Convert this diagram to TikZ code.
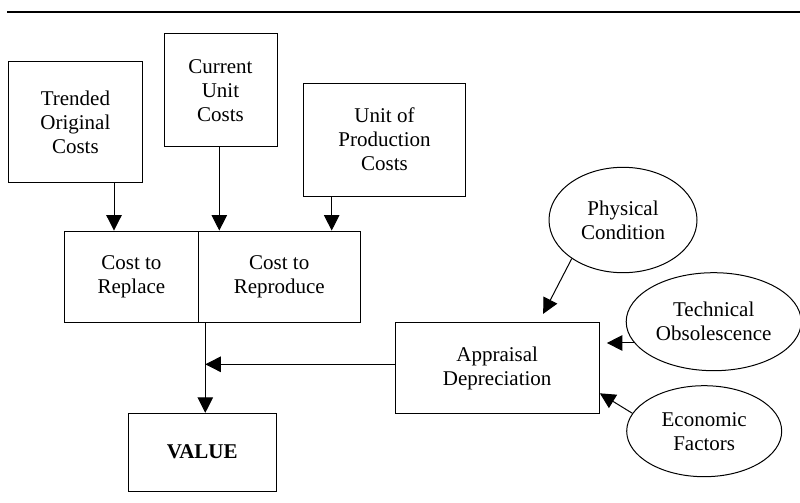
\documentclass[tikz,border=0pt]{standalone}
\usepackage{fontspec}
\setmainfont{Liberation Serif}
\usetikzlibrary{shapes.geometric,arrows.meta}

\begin{document}
\begin{tikzpicture}[x=1pt,y=-1pt,
    txt/.style={align=center,font=\fontsize{21}{24}\selectfont,inner sep=0pt},
    box/.style={txt,draw,line width=1pt,rectangle},
    oval/.style={txt,draw,line width=1pt,ellipse},
    arr/.style={line width=1pt,-{Triangle[length=15.5pt,width=15.5pt]}},
    link/.style={line width=1pt}]
  \useasboundingbox (0,0) rectangle (800,503);

  % rule across the top
  \draw[line width=2.2pt] (7,12) -- (800,12);

  % cost sources
  \node[box,minimum width=134.2pt,minimum height=120pt] (trended) at (75.4,122) {Trended\\Original\\Costs};
  \node[box,minimum width=113pt,minimum height=113pt] (current) at (220.5,90.2) {Current\\Unit\\Costs};
  \node[box,minimum width=162.4pt,minimum height=112.7pt] (unitprod) at (384.5,139.7) {Unit of\\Production\\Costs};

  % split cost box
  \node[box,minimum width=134.2pt,minimum height=91.3pt] (replace) at (131.4,276.7) {Cost to\\Replace};
  \node[box,minimum width=161.5pt,minimum height=91.3pt] (reproduce) at (279.25,276.7) {Cost to\\Reproduce};

  % result and depreciation
  \node[box,minimum width=147.7pt,minimum height=77.7pt,font=\fontsize{21}{24}\selectfont\bfseries] (value) at (202.2,452.2) {VALUE};
  \node[box,minimum width=204.3pt,minimum height=91.4pt] (appraisal) at (497.2,368) {Appraisal\\Depreciation};

  % depreciation factors
  \node[oval,minimum width=148pt,minimum height=105.4pt] (physical) at (623,220) {Physical\\Condition};
  \node[oval,minimum width=175pt,minimum height=98pt] (technical) at (713.7,321.7) {Technical\\Obsolescence};
  \node[oval,minimum width=155pt,minimum height=91pt] (economic) at (704.2,431.2) {Economic\\Factors};

  % feeds into the cost box
  \draw[arr] ([xshift=38.6pt]trended.south) -- ([xshift=38.6pt]trended.south |- replace.north);
  \draw[arr] ([xshift=-1.2pt]current.south) -- ([xshift=-1.2pt]current.south |- reproduce.north);
  \draw[arr] ([xshift=-52.8pt]unitprod.south) -- ([xshift=-52.8pt]unitprod.south |- reproduce.north);

  % cost and depreciation combine into value
  \coordinate (join) at (205.3,364.3);
  \draw[arr] (join |- reproduce.south) -- (join |- value.north);
  \draw[arr] (appraisal.west |- join) -- (join);

  % factors into depreciation
  \draw[arr] (physical.217) -- ([xshift=46pt,yshift=8pt]appraisal.north);
  \draw[arr] (technical.195) -- ([xshift=7pt]appraisal.east |- technical.195);
  \draw[arr] (economic.166) -- ([yshift=-25.3pt]appraisal.east);
\end{tikzpicture}
\end{document}
